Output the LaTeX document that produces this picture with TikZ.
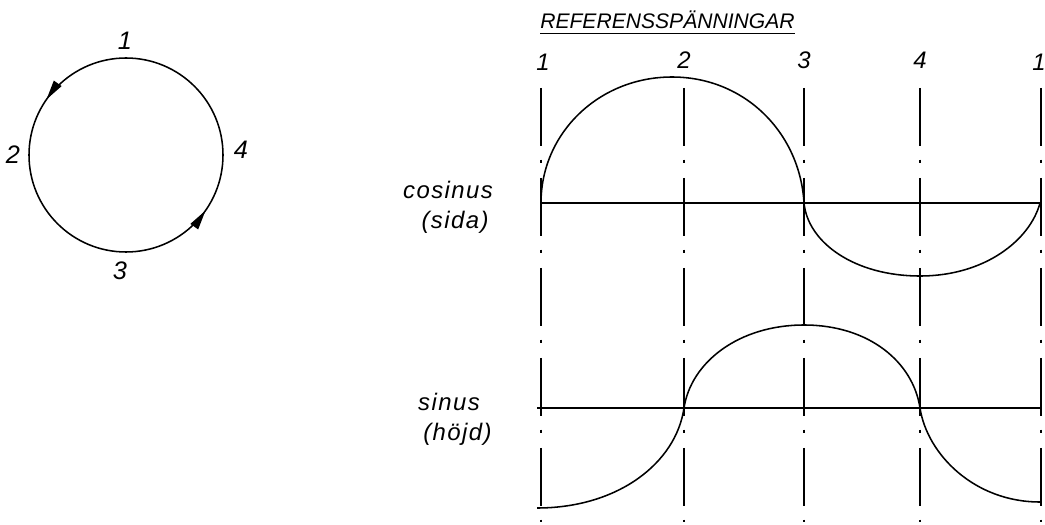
\documentclass[tikz,border=0pt]{standalone}
\usepackage{fontspec}
\setmainfont{Liberation Sans}
\newfontfamily\labelfont[LetterSpace=6]{Liberation Sans}
\usetikzlibrary{arrows.meta,positioning,decorations.markings}
\tikzset{
    curve/.style={line width=1.1pt},
    axisline/.style={line width=1.6pt},
    refline/.style={line width=0.9pt, dash pattern=on 41pt off 10pt on 2pt off 11pt},
    num/.style={font=\fontsize{17}{17}\selectfont\itshape, inner sep=0pt},
    cnum/.style={font=\fontsize{18}{18}\selectfont\itshape, inner sep=0pt},
    lbl/.style={font=\labelfont\fontsize{17}{17}\selectfont\itshape, inner sep=0pt},
    dirarrow/.style={postaction={decorate}, decoration={markings,
        mark=at position 0.153 with {\arrow{Triangle[length=14pt,width=6.5pt]}},
        mark=at position 0.653 with {\arrow{Triangle[length=14pt,width=6.5pt]}}}},
}
\begin{document}
\begin{tikzpicture}[x=0.025cm, y=-0.025cm]
    \useasboundingbox (0,0) rectangle (1045,525);

    % rotation circle
    \draw[curve, dirarrow] (126,58) arc[start angle=270, end angle=-90, radius=97];
    \node[cnum] (c1) at (125,41)  {1};
    \node[cnum] (c2) at (13,155)  {2};
    \node[cnum] (c3) at (120,271) {3};
    \node[cnum] (c4) at (241,150) {4};

    % title
    \node[font=\fontsize{15}{15}\selectfont\itshape, inner xsep=0pt,
          inner ysep=2.6pt, anchor=base west] (title) at (540,29) {REFERENSSPÄNNINGAR};
    \draw[line width=0.7pt] (title.south west) -- (title.south east);

    \node[num] (n1) at (543,62)  {1};
    \node[num] (n2) at (684,60)  {2};
    \node[num] (n3) at (804,60)  {3};
    \node[num] (n4) at (920,60)  {4};
    \node[num] (n5) at (1039,62) {1};

    \foreach \x in {541,684,804,920,1041}
        \draw[refline] (\x,88) -- (\x,522);

    % cosinus
    \node[lbl] (cos) at (448,190) {cosinus};
    \node[lbl, below=0.3cm of cos, xshift=5pt] (sida) {(sida)};
    \draw[axisline] (541,203) -- (1041,203);
    \draw[curve] (541,203) .. controls (541,133) and (599,77) .. (672,77)
                 .. controls (745,77) and (800,133) .. (804,203)
                 .. controls (808,243) and (855,276) .. (920,276)
                 .. controls (985,276) and (1030,240) .. (1040,203);

    % sinus
    \node[lbl] (sin) at (449,402) {sinus};
    \node[lbl, below=0.3cm of sin, xshift=6pt] (hojd) {(höjd)};
    \draw[axisline] (537,408) -- (1041,408);
    \draw[curve] (537,508) .. controls (618,508) and (676,463) .. (684,408)
                 .. controls (691,362) and (739,325) .. (804,325)
                 .. controls (869,325) and (913,362) .. (920,408)
                 .. controls (927,454) and (974,502) .. (1040,502);
\end{tikzpicture}
\end{document}
